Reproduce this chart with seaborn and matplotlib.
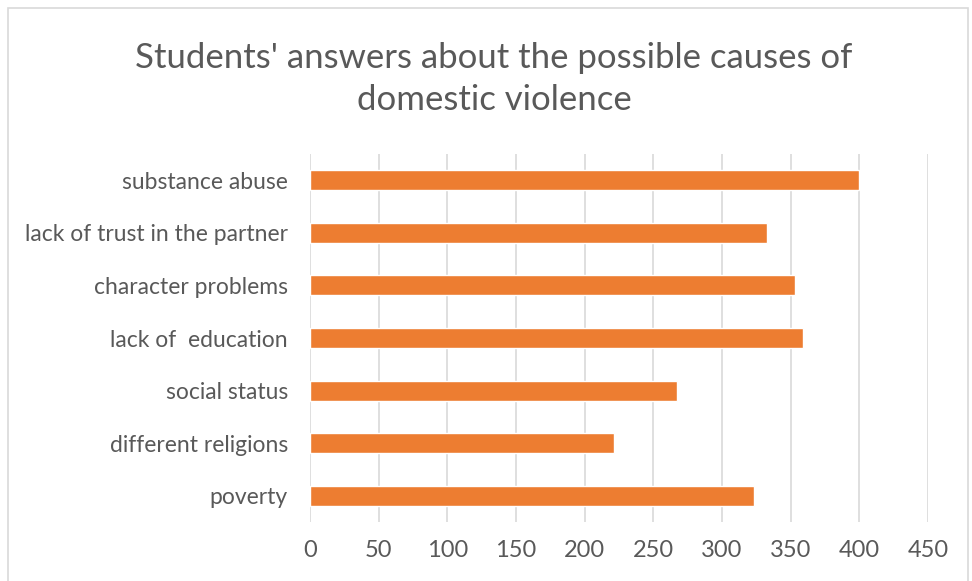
import matplotlib
matplotlib.use("Agg")
import matplotlib.pyplot as plt
import seaborn as sns
import pandas as pd
from matplotlib.patches import Rectangle

categories = ["substance abuse", "lack of trust in the partner", "character problems",
              "lack of  education", "social status", "different religions", "poverty"]
values = [400, 333, 353, 359, 267, 221, 323]
xticks = [0, 50, 100, 150, 200, 250, 300, 350, 400, 450]
title = "Students' answers about the possible causes of\ndomestic violence"

sns.set_theme(style="white")
plt.rcParams['font.family'] = ['Lato', 'DejaVu Sans']
txt = "#595959"

df = pd.DataFrame({"cause": categories, "count": values})

fig = plt.figure(figsize=(9.72, 5.81), dpi=100)
fig.patches.append(Rectangle((8/972, -0.01), 960/972, 1 - 8/581 + 0.01, transform=fig.transFigure,
                             fill=False, edgecolor="#D9D9D9", linewidth=1.2))
ax = fig.add_axes([310/972, 1 - 522/581, 618/972, 368/581])
sns.barplot(data=df, y="cause", x="count", color="#ED7D31", width=0.38, ax=ax,
            saturation=1, zorder=3)
ax.set_xlim(0, 450)
ax.set_xticks(xticks)
ax.set_xticklabels([str(t) for t in xticks])
ax.xaxis.grid(True, color="#D9D9D9", linewidth=1.2, zorder=0)
ax.yaxis.grid(False)
for s in ax.spines.values():
    s.set_visible(False)
ax.set_xlabel("")
ax.set_ylabel("")
ax.tick_params(axis="x", colors=txt, labelsize=17, length=0, pad=13)
ax.tick_params(axis="y", colors=txt, labelsize=16.5, length=0, pad=16)
fig.text(494/972, 1 - 79/581, title, ha="center", va="center", fontsize=25,
         color=txt, linespacing=1.35)
fig.savefig("out.png", dpi=100)
